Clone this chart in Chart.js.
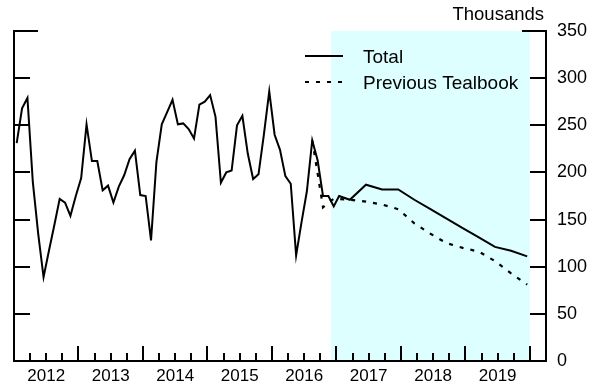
<!DOCTYPE html>
<html>
<head>
<meta charset="utf-8">
<script src="https://cdn.jsdelivr.net/npm/chart.js@4.4.1/dist/chart.umd.min.js"></script>
<style>
  html, body { margin: 0; padding: 0; background: #fff; }
  #wrap { width: 603px; height: 385px; }
</style>
</head>
<body>
<div id="wrap"><canvas id="chartJobs" width="603" height="385"></canvas></div>
<script>
// Total: monthly history, then quarterly projection
const totalDates = [
  '2012-01','2012-02','2012-03','2012-04','2012-05','2012-06','2012-07','2012-08','2012-09','2012-10','2012-11','2012-12',
  '2013-01','2013-02','2013-03','2013-04','2013-05','2013-06','2013-07','2013-08','2013-09','2013-10','2013-11','2013-12',
  '2014-01','2014-02','2014-03','2014-04','2014-05','2014-06','2014-07','2014-08','2014-09','2014-10','2014-11','2014-12',
  '2015-01','2015-02','2015-03','2015-04','2015-05','2015-06','2015-07','2015-08','2015-09','2015-10','2015-11','2015-12',
  '2016-01','2016-02','2016-03','2016-04','2016-05','2016-06','2016-07','2016-08','2016-09','2016-10','2016-11','2016-12',
  '2017-01','2017-03','2017-06','2017-09','2017-12',
  '2018-03','2018-06','2018-09','2018-12',
  '2019-03','2019-06','2019-09','2019-12'
];
const totalValues = [
  231, 268, 279, 190, 135, 89, 117, 144, 172, 168, 154, 175,
  194, 251, 212, 212, 181, 186, 168, 185, 197, 214, 223, 176,
  175, 128, 211, 251, 264, 277, 251, 252, 246, 236, 272, 275,
  282, 259, 189, 200, 202, 250, 260, 220, 193, 198, 240, 286,
  240, 224, 196, 188, 112, 147, 180, 234, 213, 175, 175, 164,
  175, 171, 187, 182, 182,
  171, 161, 151, 141,
  131, 121, 117, 111
];

// Previous Tealbook (same history, shown where it differs)
const prevDates = [
  '2016-08','2016-09','2016-10','2016-11','2016-12',
  '2017-03','2017-06','2017-09','2017-12',
  '2018-03','2018-06','2018-09','2018-12',
  '2019-03','2019-06','2019-09','2019-12'
];
const prevValues = [
  234, 199, 163, 168, 172,
  171, 169, 166, 161,
  146, 135, 125, 120,
  116, 106, 93, 81
];

const yearLabels = ['2012','2013','2014','2015','2016','2017','2018','2019'];
const yTicks = [0, 50, 100, 150, 200, 250, 300, 350];
const shadeFrom = '2016-12';
const shadeTo = '2020-01';

const FONT = "'Liberation Sans', Arial, Helvetica, sans-serif";

// middle of month -> decimal year
function midMonth(s) {
  const p = s.split('-').map(Number);
  return p[0] + (p[1] - 0.5) / 12;
}
function startMonth(s) {
  const p = s.split('-').map(Number);
  return p[0] + (p[1] - 1) / 12;
}

const shadePlugin = {
  id: 'shade',
  beforeDraw(chart) {
    const c = chart.ctx, a = chart.chartArea, x = chart.scales.x;
    const x0 = x.getPixelForValue(startMonth(shadeFrom));
    const x1 = x.getPixelForValue(startMonth(shadeTo));
    c.save();
    c.fillStyle = 'rgb(221,255,255)';
    c.fillRect(x0, a.top, x1 - x0, a.bottom - a.top);
    c.restore();
  }
};

const marksPlugin = {
  id: 'marks',
  afterDraw(chart) {
    const c = chart.ctx, a = chart.chartArea;
    const x = chart.scales.x, y = chart.scales.y;
    c.save();
    c.strokeStyle = '#000';
    c.lineWidth = 2;
    c.beginPath();
    // quarterly ticks pointing up from the bottom axis
    for (let i = 1; i <= 32; i++) {
      const v = 2012 + i / 4;
      const px = Math.round(x.getPixelForValue(v));
      const len = (i % 4 === 0) ? 15 : 8;
      c.moveTo(px, a.bottom);
      c.lineTo(px, a.bottom - len);
    }
    // y ticks pointing inward on both sides
    y.ticks.forEach(t => {
      if (t.value === 0) return;
      const py = Math.round(y.getPixelForValue(t.value));
      const len = t.value === 350 ? 24 : 16;
      c.moveTo(a.left, py); c.lineTo(a.left + len, py);
      c.moveTo(a.right, py); c.lineTo(a.right - len, py);
    });
    c.stroke();

    // units
    c.fillStyle = '#000';
    c.font = '18.5px ' + FONT;
    c.textAlign = 'right';
    c.textBaseline = 'alphabetic';
    c.fillText('Thousands', 544, 20);

    // legend
    c.beginPath();
    c.moveTo(305, 56); c.lineTo(343, 56);
    c.stroke();
    c.setLineDash([4, 7]);
    c.beginPath();
    c.moveTo(305, 82); c.lineTo(343, 82);
    c.stroke();
    c.setLineDash([]);
    c.font = '19px ' + FONT;
    c.textAlign = 'left';
    c.fillText('Total', 363, 63);
    c.fillText('Previous Tealbook', 363, 89);
    c.restore();
  }
};

const ctx = document.getElementById('chartJobs').getContext('2d');
new Chart(ctx, {
  type: 'line',
  data: {
    datasets: [
      {
        label: 'Total',
        data: totalDates.map((d, i) => ({ x: midMonth(d), y: totalValues[i] })),
        borderColor: '#000',
        borderWidth: 2,
        pointRadius: 0,
        tension: 0,
        fill: false
      },
      {
        label: 'Previous Tealbook',
        data: prevDates.map((d, i) => ({ x: midMonth(d), y: prevValues[i] })),
        borderColor: '#000',
        borderWidth: 2.2,
        borderDash: [4, 7],
        pointRadius: 0,
        tension: 0,
        fill: false
      }
    ]
  },
  options: {
    responsive: false,
    animation: false,
    layout: { padding: { top: 31, left: 0, right: 0, bottom: 0 } },
    plugins: { legend: { display: false }, tooltip: { enabled: false } },
    scales: {
      x: {
        type: 'linear',
        position: 'bottom',
        min: 2012,
        max: 2020.25,
        afterBuildTicks: s => { s.ticks = yearLabels.map(l => ({ value: Number(l) + 0.5 })); },
        ticks: {
          callback: (v, i) => yearLabels[i],
          font: { family: FONT, size: 17 },
          color: '#000',
          padding: 5,
          maxRotation: 0,
          autoSkip: false
        },
        grid: { display: false, drawTicks: false },
        border: { color: '#000', width: 2 },
        afterFit: s => { s.height = 24; }
      },
      yl: {
        position: 'left',
        min: 0,
        max: 350,
        ticks: { display: false },
        grid: { display: false, drawTicks: false },
        border: { color: '#000', width: 2 },
        afterFit: s => { s.width = 14; }
      },
      y: {
        position: 'right',
        min: 0,
        max: 350,
        afterBuildTicks: s => { s.ticks = yTicks.map(v => ({ value: v })); },
        ticks: {
          font: { family: FONT, size: 18 },
          color: '#000',
          padding: 11
        },
        grid: { display: false, drawTicks: false },
        border: { color: '#000', width: 2 },
        afterFit: s => { s.width = 57; }
      }
    }
  },
  plugins: [shadePlugin, marksPlugin]
});
</script>
</body>
</html>
